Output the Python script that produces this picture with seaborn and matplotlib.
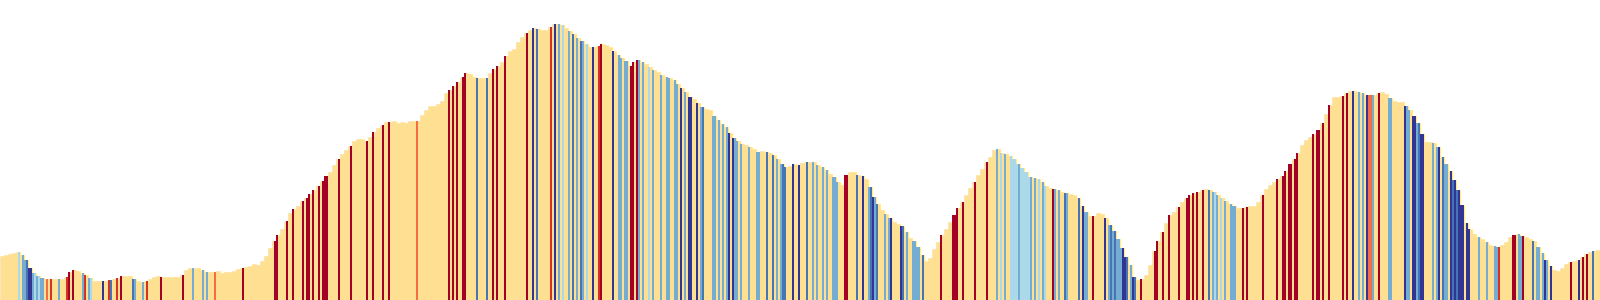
import matplotlib
matplotlib.use("Agg")
import matplotlib.pyplot as plt
import seaborn as sns
import pandas as pd

# Elevation profile (relative units), one value per route segment
elevation = [
    44, 45, 46, 47, 48, 45, 40, 32, 27, 24, 22, 21, 21, 21, 21, 21, 23, 28, 30, 29,
    27, 25, 22, 19, 19, 19, 19, 20, 21, 22, 24, 24, 24, 21, 19, 18, 19, 21, 23, 24,
    23, 23, 23, 23, 23, 25, 30, 32, 32, 32, 30, 28, 28, 28, 29, 27, 28, 28, 29, 31,
    32, 33, 34, 36, 35, 39, 44, 52, 59, 65, 71, 79, 87, 91, 94, 99, 102, 106, 110, 114,
    119, 124, 128, 135, 141, 146, 150, 154, 159, 161, 161, 159, 163, 168, 172, 175, 178, 178, 179, 177,
    178, 177, 179, 179, 179, 185, 190, 194, 194, 196, 199, 207, 210, 214, 218, 223, 227, 226, 223, 222,
    222, 222, 227, 231, 234, 238, 244, 249, 251, 258, 263, 267, 270, 272, 271, 270, 270, 273, 276, 276,
    275, 272, 269, 266, 262, 259, 256, 253, 253, 254, 256, 255, 253, 249, 245, 242, 239, 234, 238, 240,
    238, 236, 233, 230, 228, 225, 223, 222, 220, 216, 212, 208, 203, 201, 197, 193, 191, 190, 184, 180,
    176, 173, 167, 162, 159, 156, 155, 153, 151, 148, 149, 148, 147, 145, 141, 136, 133, 134, 136, 135,
    137, 138, 138, 138, 135, 133, 130, 126, 123, 118, 115, 125, 128, 128, 125, 124, 121, 113, 103, 96,
    90, 86, 82, 78, 76, 74, 68, 62, 59, 53, 45, 39, 42, 51, 58, 65, 71, 78, 85, 92,
    98, 105, 112, 118, 125, 131, 138, 143, 150, 151, 147, 146, 144, 141, 136, 132, 128, 123, 122, 121,
    118, 114, 112, 111, 110, 108, 107, 106, 105, 102, 94, 88, 84, 84, 87, 86, 82, 75, 69, 61,
    52, 43, 35, 23, 20, 21, 25, 35, 49, 59, 68, 77, 85, 88, 93, 98, 102, 105, 107, 108,
    110, 111, 110, 108, 105, 102, 99, 96, 94, 92, 92, 93, 94, 94, 98, 105, 111, 115, 118, 121,
    124, 129, 136, 141, 147, 155, 160, 163, 166, 170, 177, 186, 195, 203, 203, 204, 207, 209, 209, 208,
    207, 205, 205, 205, 207, 208, 206, 202, 199, 198, 198, 194, 190, 184, 177, 166, 158, 158, 157, 153,
    143, 136, 129, 120, 110, 95, 77, 71, 66, 63, 61, 58, 55, 54, 53, 55, 58, 63, 65, 66,
    64, 63, 61, 59, 53, 47, 40, 34, 30, 29, 32, 36, 38, 39, 40, 43, 46, 48, 49, 50,
]

# Steep sub-segments (half-segment index) and their gradient class
steep_seg = [
    9, 11, 12, 13, 14, 15, 16, 17, 18, 19, 20, 21, 23, 25, 29, 33, 34, 36, 41, 42,
    44, 45, 51, 54, 55, 58, 60, 66, 67, 71, 73, 80, 91, 96, 101, 103, 107, 121, 137, 138,
    143, 146, 151, 153, 154, 156, 159, 161, 162, 163, 169, 175, 183, 186, 191, 194,
    208, 224, 226, 228, 231, 232, 238, 243, 246, 248, 252, 263, 266, 268, 275, 277, 279, 281,
    284, 286, 288, 290, 291, 293, 296, 299, 300, 306, 309, 310, 312, 313, 315, 316, 318, 319,
    321, 324, 326, 330, 333, 334, 337, 338, 340, 342, 344, 345, 348, 350, 351, 356, 357, 359,
    361, 363, 364, 366, 367, 368, 370, 374, 378, 379, 383, 386, 388, 390, 391, 392, 396, 399,
    403, 406, 408, 411, 413, 416, 417, 418, 422, 423, 428, 431, 434, 435, 436, 437, 438, 442,
    444, 445, 450, 451, 453, 456, 457, 458, 459, 461, 470, 476, 477, 478, 481, 487, 493, 498,
    500, 502, 505, 506, 507, 508, 509, 510, 511, 512, 513, 514, 515, 517, 519, 521, 522, 526,
    527, 529, 532, 533, 539, 541, 542, 543, 546, 552, 554, 555, 556, 557, 558, 559, 560, 561,
    562, 563, 565, 566, 567, 570, 577, 578, 581, 584, 589, 593, 594, 596, 598,
    601, 604, 606, 607, 608, 610, 612, 615, 616, 617, 621, 623, 631, 638, 641, 642, 644, 645,
    647, 648, 656, 658, 659, 661, 664, 671, 673, 676, 679, 681, 683, 684, 685, 686, 689, 694,
    695, 702, 703, 704, 706, 707, 708, 709, 710, 711, 716, 718, 719, 721, 722, 723, 725, 726,
    727, 728, 729, 730, 731, 733, 734, 739, 743, 747, 748, 749, 756, 757, 759, 760, 761, 766,
    768, 769, 771, 772, 773, 775, 785, 789, 791, 793, 796,
]
steep_cls = list(
    "cbbBDDbcbcbb" "orbrRRbr"
    "bcDrBrRBbbrRRbbboRRR"
    "RRRRRRRRRRRRRRRR"
    "oRRRRRBBRRRRDBrDbc"
    "bBbBbcDrRDbbbbRRRb"
    "bcbbbbbbDbDDDbBbbb"
    "bbDDbbbbbbBBbbBBDD"
    "BbbbbbbbRRBDbBDbBb"
    "bDDBbbbbbBRRRRRRRb"
    "cbccccbcccccbbcbcR"
    "bbBbBDbbRDbBbBbbbD"
    "DBbDBRRRRRRRRRR"
    "RBbcbcbbbbRRRRRRRR"
    "RRRRRRRRRDbbDoobRb"
    "bDbbDDbBDDbbDBbbDB"
    "DBDDDDDbbbbrRRbbRB"
    "bbbDbDRDRRB"
)

grade_colors = {
    "R": "#a50026",  # very steep climb
    "r": "#d73027",
    "o": "#f46d43",
    "c": "#abd9e9",  # gentle descent
    "b": "#74add1",
    "B": "#4575b4",
    "D": "#313695",  # steep descent
}
FLAT = "#fee090"

df = pd.DataFrame({"seg": list(range(len(elevation))), "elev": elevation})

fig = plt.figure(figsize=(16, 3), dpi=100)
ax = fig.add_axes([0, 0, 1, 1])
sns.barplot(data=df, x="seg", y="elev", color=FLAT, saturation=1, width=1.0,
            errorbar=None, linewidth=0.4, edgecolor=FLAT, ax=ax)

n = min(len(steep_seg), len(steep_cls))
xs = [steep_seg[i] / 2 - 0.25 for i in range(n)]
hs = [elevation[min(steep_seg[i] // 2, len(elevation) - 1)] for i in range(n)]
cs = [grade_colors[steep_cls[i]] for i in range(n)]
ax.bar(xs, hs, width=0.38, color=cs, linewidth=0)

ax.set_xlim(-0.5, len(elevation) - 0.5)
ax.set_ylim(0, 300)
ax.axis("off")
fig.savefig("out.png", dpi=100)
print(len(steep_seg), len(steep_cls))
